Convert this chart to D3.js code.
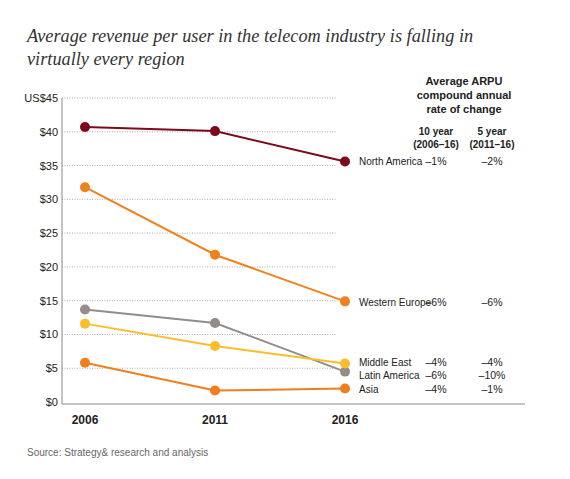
<!DOCTYPE html><html><head><meta charset="utf-8"><script src="https://cdn.jsdelivr.net/npm/d3@7"></script>
<style>body{margin:0;background:#fff}text{font-family:"Liberation Sans",Arial,sans-serif}</style></head><body><svg id="c" width="570" height="479"></svg>
<script>
const years=[2006,2011,2016];
const regions=["North America","Western Europe","Middle East","Latin America","Asia"];
const northAmerica=[40.7,40.1,35.6];
const westernEurope=[31.8,21.8,14.9];
const middleEast=[11.6,8.3,5.7];
const latinAmerica=[13.7,11.7,4.5];
const asia=[5.8,1.7,2.0];
const tenYear=["–1%","–6%","–4%","–6%","–4%"];
const fiveYear=["–2%","–6%","–4%","–10%","–1%"];
const yTicks=[0,5,10,15,20,25,30,35,40,45];
const colors=["#7d0a1a","#f0821e","#fbbd2c","#938c88","#f07d1e"];
const series=[northAmerica,westernEurope,middleEast,latinAmerica,asia];
const labelY=[161,302,362,375,389];
const svg=d3.select("#c");
const x=d3.scalePoint().domain(years).range([85,345]);
const y=d3.scaleLinear().domain([0,45]).range([402,98]);
svg.append("text").attr("x",27).attr("y",42).attr("font-style","italic").attr("font-size",18.3).attr("fill","#333").style("font-family","'Liberation Serif',Georgia,serif").text("Average revenue per user in the telecom industry is falling in");
svg.append("text").attr("x",27).attr("y",65).attr("font-style","italic").attr("font-size",18.3).attr("fill","#333").style("font-family","'Liberation Serif',Georgia,serif").text("virtually every region");
yTicks.forEach(t=>{
 if(t>0) svg.append("line").attr("x1",62).attr("x2",336).attr("y1",y(t)).attr("y2",y(t)).attr("stroke","#999").attr("stroke-dasharray","1,1.5").attr("stroke-width",0.8);
 svg.append("text").attr("x",58).attr("y",y(t)+4).attr("text-anchor","end").attr("font-size",11).attr("fill","#222").text(t===45?"US$45":"$"+t);
});
svg.append("line").attr("x1",62).attr("x2",62).attr("y1",98).attr("y2",404).attr("stroke","#888");
svg.append("line").attr("x1",62).attr("x2",525).attr("y1",404).attr("y2",404).attr("stroke","#888");
years.forEach(yr=>svg.append("text").attr("x",x(yr)).attr("y",424).attr("text-anchor","middle").attr("font-size",12).attr("font-weight","bold").attr("fill","#222").text(yr));
const line=d3.line().x((d,i)=>x(years[i])).y(d=>y(d));
const order=[3,2,4,1,0];
order.forEach(k=>{
 svg.append("path").attr("d",line(series[k])).attr("fill","none").attr("stroke",colors[k]).attr("stroke-width",2);
 series[k].forEach((v,i)=>svg.append("circle").attr("cx",x(years[i])).attr("cy",y(v)).attr("r",5).attr("fill",colors[k]));
});
regions.forEach((r,i)=>{
 svg.append("text").attr("x",359).attr("y",labelY[i]+4).attr("font-size",10).attr("fill","#222").text(r);
 svg.append("text").attr("x",436).attr("y",labelY[i]+4).attr("text-anchor","middle").attr("font-size",10.5).attr("fill","#222").text(tenYear[i]);
 svg.append("text").attr("x",492).attr("y",labelY[i]+4).attr("text-anchor","middle").attr("font-size",10.5).attr("fill","#222").text(fiveYear[i]);
});
[["Average ARPU",85],["compound annual",99],["rate of change",113]].forEach(([t,yy])=>svg.append("text").attr("x",464).attr("y",yy).attr("text-anchor","middle").attr("font-size",11).attr("font-weight","bold").attr("fill","#222").text(t));
[["10 year",436,135],["(2006–16)",436,148],["5 year",492,135],["(2011–16)",492,148]].forEach(([t,xx,yy])=>svg.append("text").attr("x",xx).attr("y",yy).attr("text-anchor","middle").attr("font-size",10).attr("font-weight","bold").attr("fill","#222").text(t));
svg.append("text").attr("x",27).attr("y",456).attr("font-size",10).attr("fill","#666").text("Source: Strategy& research and analysis");
</script></body></html>
